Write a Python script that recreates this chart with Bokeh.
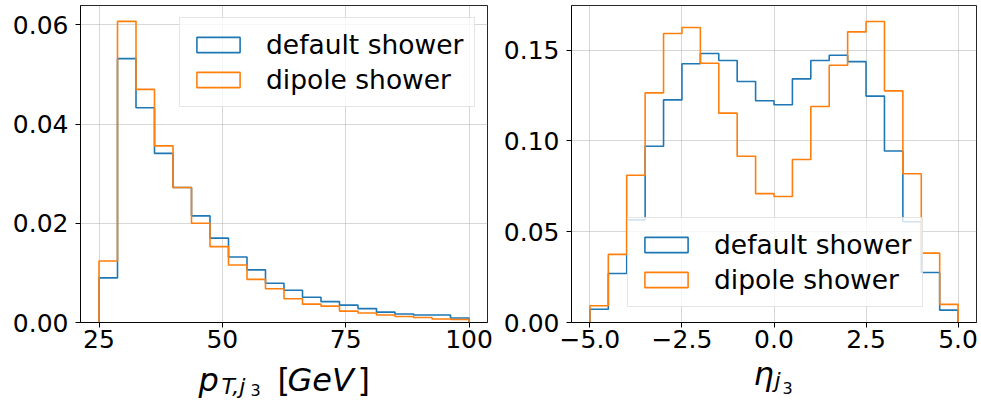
from bokeh.plotting import figure
from bokeh.layouts import row, column
from bokeh.models import (Label, Legend, LegendItem, FixedTicker,
                          CustomJSTickFormatter, Range1d)
from bokeh.embed import file_html
from bokeh.resources import INLINE

# ---- data ----
pt_edges = [25.0, 28.75, 32.5, 36.25, 40.0, 43.75, 47.5, 51.25, 55.0, 58.75,
            62.5, 66.25, 70.0, 73.75, 77.5, 81.25, 85.0, 88.75, 92.5, 96.25, 100.0]
pt_default = [0.0090, 0.0532, 0.0433, 0.0341, 0.0272, 0.0215, 0.0170, 0.0132,
              0.0106, 0.0079, 0.0065, 0.0051, 0.0042, 0.0035, 0.0028, 0.0021,
              0.0017, 0.0015, 0.0015, 0.0009]
pt_dipole = [0.0124, 0.0607, 0.0470, 0.0356, 0.0272, 0.0200, 0.0153, 0.0116,
             0.0087, 0.0068, 0.0048, 0.0037, 0.0033, 0.0023, 0.0019, 0.0015,
             0.0012, 0.0010, 0.0007, 0.0006]

eta_edges = [-5.0, -4.5, -4.0, -3.5, -3.0, -2.5, -2.0, -1.5, -1.0, -0.5, 0.0,
             0.5, 1.0, 1.5, 2.0, 2.5, 3.0, 3.5, 4.0, 4.5, 5.0]
eta_default = [0.0073, 0.0270, 0.0565, 0.0971, 0.1226, 0.1425, 0.1482, 0.1443,
               0.1327, 0.1221, 0.1199, 0.1342, 0.1443, 0.1472, 0.1437, 0.1247,
               0.0945, 0.0555, 0.0275, 0.0068]
eta_dipole = [0.0092, 0.0375, 0.0811, 0.1265, 0.1592, 0.1625, 0.1428, 0.1153,
              0.0916, 0.0710, 0.0694, 0.0898, 0.1190, 0.1417, 0.1601, 0.1658,
              0.1276, 0.0819, 0.0382, 0.0100]

pt_xticks = [25, 50, 75, 100]
pt_yticks = [0.0, 0.02, 0.04, 0.06]
eta_xticks = [-5.0, -2.5, 0.0, 2.5, 5.0]
eta_yticks = [0.0, 0.05, 0.10, 0.15]
series_labels = ["default shower", "dipole shower"]
colors = ["#1f77b4", "#ff7f0e"]

FONT = "DejaVu Sans"
MAIN_H = 362
OVERLAP = 10
LAB_H = 39 + OVERLAP


def step_outline(edges, vals):
    xs = [edges[0]]
    ys = [0.0]
    for i, v in enumerate(vals):
        xs += [edges[i], edges[i + 1]]
        ys += [v, v]
    xs.append(edges[-1])
    ys.append(0.0)
    return xs, ys


def make_fig(width, xr, yr, bl, br, xticks, yticks, xfmt, yfmt):
    p = figure(width=width, height=MAIN_H, x_range=Range1d(*xr), y_range=Range1d(*yr),
               output_backend="svg", toolbar_location=None,
               min_border_left=bl, min_border_right=br,
               min_border_top=5, min_border_bottom=40)
    p.background_fill_color = "white"
    p.border_fill_color = "white"
    p.outline_line_color = "black"
    p.outline_line_alpha = 0.85
    p.outline_line_width = 1
    p.xaxis.ticker = FixedTicker(ticks=xticks)
    p.yaxis.ticker = FixedTicker(ticks=yticks)
    p.xaxis.formatter = CustomJSTickFormatter(code=xfmt)
    p.yaxis.formatter = CustomJSTickFormatter(code=yfmt)
    for ax in (p.xaxis, p.yaxis):
        ax.major_tick_out = 5
        ax.major_tick_in = 0
        ax.minor_tick_out = 0
        ax.minor_tick_in = 0
        ax.axis_line_color = "black"
        ax.axis_line_alpha = 0.85
        ax.major_tick_line_color = "black"
        ax.major_label_text_font = FONT
        ax.major_label_text_font_size = "25px"
        ax.major_label_text_color = "black"
    p.xaxis.major_label_standoff = 2
    p.yaxis.major_label_standoff = 7
    p.grid.grid_line_color = "#b0b0b0"
    p.grid.grid_line_alpha = 0.5
    p.grid.grid_line_width = 1
    return p


def add_hists(p, edges, series, legend_loc):
    items = []
    for vals, col, lab in zip(series, colors, series_labels):
        xs, ys = step_outline(edges, vals)
        p.line(xs, ys, line_color=col, line_width=1.6)
        # zero-size proxy so the legend draws an outlined box
        proxy = p.quad(left=[edges[0]], right=[edges[0]], top=[0.0], bottom=[0.0],
                       fill_color=None, line_color=col, line_width=1.6)
        items.append(LegendItem(label=lab, renderers=[proxy]))
    leg = Legend(items=items, location=legend_loc, margin=0, padding=11,
                 spacing=4, glyph_width=54, glyph_height=19, label_standoff=21,
                 label_text_font=FONT, label_text_font_size="26.5px",
                 label_text_color="black",
                 border_line_color="#cccccc", border_line_width=1,
                 background_fill_color="white", background_fill_alpha=0.8)
    p.add_layout(leg)


def label_fig(width):
    q = figure(width=width, height=LAB_H, x_range=Range1d(0, width),
               y_range=Range1d(0, LAB_H), output_backend="svg",
               toolbar_location=None, min_border=0, min_border_left=0,
               min_border_right=0, min_border_top=0, min_border_bottom=0)
    q.axis.visible = False
    q.grid.visible = False
    q.outline_line_color = None
    q.background_fill_color = None
    q.border_fill_color = None
    return q


def add_label(q, text, sx, sy, size, style="italic", x0=0, y0=MAIN_H - OVERLAP):
    # sx, sy: page pixel position of the text's left end / baseline
    fs = float(size.replace("px", ""))
    sy_adj = sy - 0.28 * fs  # empirical correction of the baseline
    q.add_layout(Label(x=sx - x0, y=(y0 + LAB_H) - sy_adj, text=text,
                       text_font=FONT, text_font_style=style,
                       text_font_size=size, text_baseline="alphabetic",
                       text_align="left", text_color="black"))


W1, W2 = 495, 486

p1 = make_fig(W1, (21.25, 103.75), (0, 0.0639), 80, 8, pt_xticks, pt_yticks,
              "return tick.toFixed(0);", "return tick.toFixed(2);")
add_hists(p1, pt_edges, [pt_default, pt_dipole], (99, 215))

p2 = make_fig(W2, (-5.5, 5.5), (0, 0.1746), 76, 5, eta_xticks, eta_yticks,
              "return (tick < 0 ? '\u2212' : '') + Math.abs(tick).toFixed(1);",
              "return tick.toFixed(2);")
add_hists(p2, eta_edges, [eta_default, eta_dipole], (56, 15))

q1 = label_fig(W1)
add_label(q1, "p", 198, 388, "32px")
add_label(q1, "T,j", 221, 392, "22px")
add_label(q1, "3", 250, 394, "16px", "normal")
add_label(q1, "[", 277, 388, "32px", "normal")
add_label(q1, "GeV", 287, 388, "32px")
add_label(q1, "]", 357, 388, "32px", "normal")

q2 = label_fig(W2)
add_label(q2, "\u03b7", 753, 382, "32px", x0=W1)
add_label(q2, "j", 774, 386, "22px", x0=W1)
add_label(q2, "3", 782, 392, "16px", "normal", x0=W1)

labels_row = row(q1, q2)
labels_row.margin = (-OVERLAP, 0, 0, 0)

layout = column(row(p1, p2), labels_row)
open("out.html", "w").write(file_html(layout, INLINE))
